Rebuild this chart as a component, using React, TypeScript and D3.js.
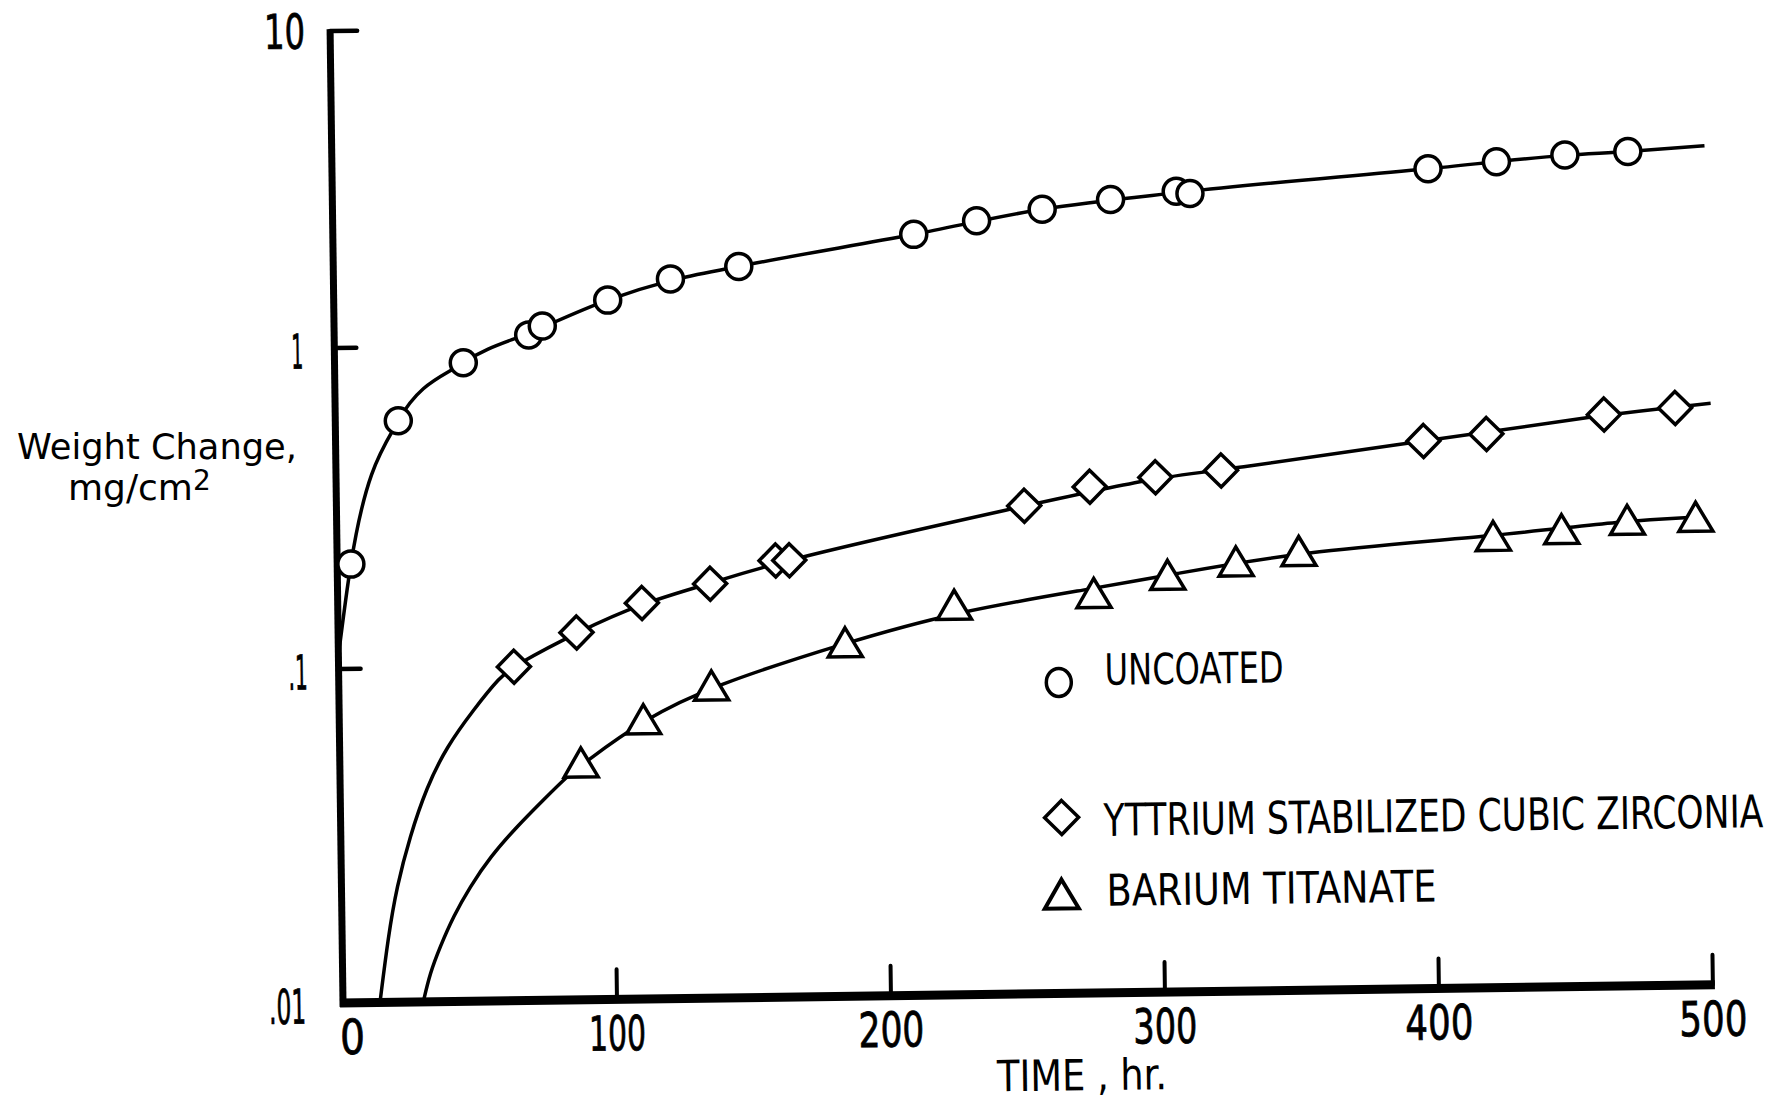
import { useLayoutEffect, useRef, useState } from 'react';
import * as d3 from 'd3';

// measured points (hours, mg/cm2)
const uncoatedT = [5, 23, 47, 71, 76, 100, 123, 148, 212, 235, 259, 284, 308, 313, 400, 425, 450, 473];
const uncoatedW = [0.212, 0.59, 0.889, 1.08, 1.15, 1.38, 1.6, 1.74, 2.16, 2.37, 2.56, 2.73, 2.88, 2.83, 3.31, 3.46, 3.61, 3.68];

const zirconiaT = [64, 87, 111, 136, 160, 165, 251, 275, 299, 323, 397, 420, 463, 489];
const zirconiaW = [0.1, 0.127, 0.156, 0.178, 0.209, 0.209, 0.302, 0.344, 0.366, 0.382, 0.463, 0.484, 0.55, 0.573];

const bariumT = [88, 111, 136, 185, 225, 276, 303, 328, 351, 422, 447, 471, 496];
const bariumW = [0.0512, 0.0686, 0.086, 0.115, 0.149, 0.16, 0.181, 0.198, 0.212, 0.232, 0.242, 0.257, 0.261];

// hand-drawn fit curves
const uncoatedCurveT = [0, 5, 23, 47, 73, 100, 123, 148, 212, 259, 310, 400, 450, 473, 501];
const uncoatedCurveW = [0.11, 0.212, 0.59, 0.889, 1.11, 1.38, 1.58, 1.74, 2.16, 2.56, 2.86, 3.31, 3.6, 3.68, 3.81];

const zirconiaCurveT = [13.5, 16.8, 20.2, 25.2, 31.6, 39.1, 49, 58.9, 64.4, 87, 111, 136, 162, 251, 299, 323, 397, 463, 502];
const zirconiaCurveW = [0.01, 0.0157, 0.0222, 0.0313, 0.044, 0.058, 0.0745, 0.0935, 0.101, 0.127, 0.156, 0.178, 0.209, 0.302, 0.366, 0.382, 0.463, 0.55, 0.59];

const bariumCurveT = [29.3, 31.9, 35.7, 40.7, 46.9, 54.4, 64.3, 74.1, 82.8, 88.9, 111, 136, 185, 225, 276, 303, 351, 422, 471, 496];
const bariumCurveW = [0.01, 0.0122, 0.0146, 0.018, 0.022, 0.027, 0.0332, 0.0398, 0.0467, 0.051, 0.0686, 0.086, 0.115, 0.142, 0.166, 0.181, 0.212, 0.232, 0.257, 0.261];

const xTicks = [100, 200, 300, 400, 500];
const xTickLabels = ['0', '100', '200', '300', '400', '500'];
const yTicks = [10, 1, 0.1];
const yTickValues = [10, 1, 0.1, 0.01];
const yTickLabels = ['10', '1', '.1', '.01'];

const legendLabels = ['UNCOATED', 'YTTRIUM STABILIZED CUBIC ZIRCONIA', 'BARIUM TITANATE'];

const W = 1773;
const H = 1101;
const font = '"DejaVu Sans", sans-serif';

const x = d3.scaleLinear().domain([0, 500]).range([343, 1713]);
const y = d3.scaleLog().domain([0.01, 0.1, 1, 10]).range([1003, 669, 348, 31]);

const zip = (t: number[], w: number[]) => t.map((v, i) => [v, w[i]] as [number, number]);

const lineWith = (c: d3.CurveFactory) =>
  d3
    .line<[number, number]>()
    .x((d) => x(d[0]))
    .y((d) => y(d[1]))
    .curve(c);

const diamondPath = (r: number) => `M0,${-r}L${r},0L0,${r}L${-r},0Z`;
const trianglePath = (w: number, h: number) => `M0,${-h / 2 - 1}L${w / 2},${h / 2}L${-w / 2},${h / 2}Z`;

// narrow lettering of the original: widths in px
const labelWidth: Record<string, number> = {
  '0': 25,
  '100': 57,
  '200': 66,
  '300': 64,
  '400': 68,
  '500': 68,
  '10': 41,
  '1': 12,
  '.1': 19,
  '.01': 37,
};
// gap between y labels and the axis
const yLabelGap: Record<string, number> = { '10': 25, '1': 31, '.1': 31, '.01': 37 };

const ink = '#000';

// text squeezed horizontally to a given width
function FitText({
  x,
  y,
  width,
  size,
  anchor = 'start',
  bold = 0,
  children,
}: {
  x: number;
  y: number;
  width: number;
  size: number;
  anchor?: 'start' | 'middle' | 'end';
  bold?: number;
  children: any;
}) {
  const ref = useRef<SVGTextElement>(null);
  const [sx, setSx] = useState(1);
  useLayoutEffect(() => {
    const w = ref.current ? ref.current.getComputedTextLength() : 0;
    if (w > 0) setSx(width / w);
  }, [width, children]);
  return (
    <text
      ref={ref}
      transform={`translate(${x},${y}) scale(${sx},1)`}
      fontSize={size}
      textAnchor={anchor}
      fill={ink}
      stroke={bold ? ink : 'none'}
      strokeWidth={bold}
    >
      {children}
    </text>
  );
}

export default function App() {
  const x0 = x(0);
  const y0 = y(0.01);
  return (
    <svg
      width={W}
      height={H}
      style={{ position: 'absolute', left: 0, top: 0, background: '#fff' }}
      fontFamily={font}
    >
      <rect width={W} height={H} fill="#fff" />

      {/* y label */}
      <FitText x={17} y={459} width={280} size={36}>
        Weight Change,
      </FitText>
      <text x={68} y={500} fontSize={36} fill={ink}>
        mg/cm
        <tspan dy={-10} fontSize={28}>
          2
        </tspan>
      </text>

      <g transform={`rotate(-0.76 ${x0} ${y0})`}>
        {/* curves */}
        <path d={lineWith(d3.curveMonotoneX)(zip(uncoatedCurveT, uncoatedCurveW)) || ''} fill="none" stroke={ink} strokeWidth={3.5} />
        <path d={lineWith(d3.curveBasis)(zip(zirconiaCurveT, zirconiaCurveW)) || ''} fill="none" stroke={ink} strokeWidth={3.5} />
        <path d={lineWith(d3.curveBasis)(zip(bariumCurveT, bariumCurveW)) || ''} fill="none" stroke={ink} strokeWidth={3.5} />

        {/* axes */}
        <line x1={x0} x2={x0} y1={y(10) - 2} y2={y0 + 4} stroke={ink} strokeWidth={7} />
        <line x1={x0 - 3} x2={x(500) + 2} y1={y0} y2={y0} stroke={ink} strokeWidth={9} />
        {yTicks.map((t) => (
          <line
            key={t}
            x1={x0}
            x2={x0 + (t === 10 ? 27 : 22)}
            y1={y(t)}
            y2={y(t)}
            stroke={ink}
            strokeWidth={4.5}
            strokeLinecap="round"
          />
        ))}
        {xTicks.map((t) => (
          <line
            key={t}
            x1={x(t)}
            x2={x(t)}
            y1={y0}
            y2={y0 - 30}
            stroke={ink}
            strokeWidth={4}
            strokeLinecap="round"
          />
        ))}

        {/* tick labels */}
        {yTickValues.map((v, i) => (
          <FitText
            key={v}
            x={x0 - yLabelGap[yTickLabels[i]]}
            y={y(v) + (v === 10 ? 17 : 20)}
            width={labelWidth[yTickLabels[i]]}
            size={48}
            anchor="end"
            bold={0.8}
          >
            {yTickLabels[i]}
          </FitText>
        ))}
        {[0, ...xTicks].map((t, i) => (
          <FitText
            key={t}
            x={x(t) + (t === 0 ? 9 : 0)}
            y={y0 + 51}
            width={labelWidth[xTickLabels[i]]}
            size={48}
            anchor="middle"
            bold={0.8}
          >
            {xTickLabels[i]}
          </FitText>
        ))}
        <FitText x={996} y={1100} width={170} size={43}>
          TIME , hr.
        </FitText>

        {/* markers */}
        {zip(uncoatedT, uncoatedW).map((d, i) => (
          <circle key={'c' + i} cx={x(d[0])} cy={y(d[1])} r={13} fill="#fff" stroke={ink} strokeWidth={3.5} />
        ))}
        {zip(zirconiaT, zirconiaW).map((d, i) => (
          <path
            key={'d' + i}
            d={diamondPath(16.5)}
            transform={`translate(${x(d[0])},${y(d[1])})`}
            fill="#fff"
            stroke={ink}
            strokeWidth={3.5}
          />
        ))}
        {zip(bariumT, bariumW).map((d, i) => (
          <path
            key={'t' + i}
            d={trianglePath(34, 28)}
            transform={`translate(${x(d[0])},${y(d[1])})`}
            fill="#fff"
            stroke={ink}
            strokeWidth={3.5}
          />
        ))}

        {/* legend */}
        <ellipse cx={1063} cy={692} rx={12.5} ry={14} fill="#fff" stroke={ink} strokeWidth={3.5} />
        <path d={diamondPath(17)} transform="translate(1064,827)" fill="#fff" stroke={ink} strokeWidth={3.5} />
        <path d={trianglePath(34, 28)} transform="translate(1063,904)" fill="#fff" stroke={ink} strokeWidth={4} />
        <FitText x={1109} y={695} width={179} size={43}>
          {legendLabels[0]}
        </FitText>
        <FitText x={1106} y={846} width={660} size={45}>
          {legendLabels[1]}
        </FitText>
        <FitText x={1108} y={916} width={330} size={44}>
          {legendLabels[2]}
        </FitText>
      </g>
    </svg>
  );
}
